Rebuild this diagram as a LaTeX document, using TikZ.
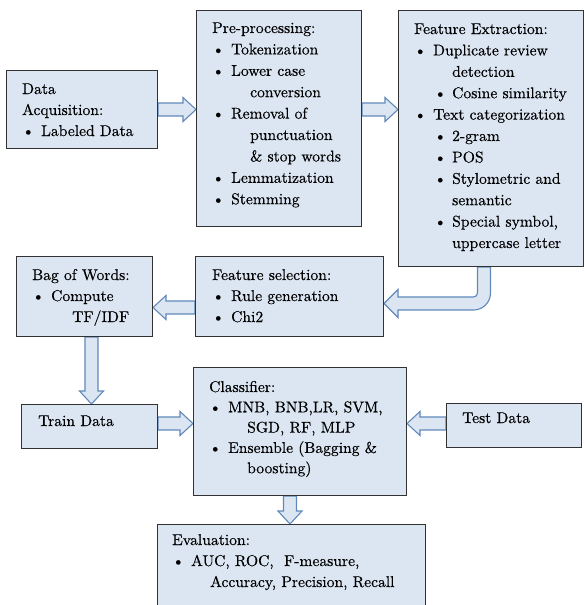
\documentclass[tikz,border=0pt]{standalone}
\usepackage{fontspec}
\newfontfamily\lmh{lmroman10-regular}[Extension=.otf, FakeBold=0.35]
\usetikzlibrary{calc}
\definecolor{boxfill}{RGB}{220,230,242}
\definecolor{boxline}{RGB}{50,50,50}
\definecolor{arrline}{RGB}{96,136,186}
\newcommand\myb{\makebox[19pt][l]{\textbullet}}
\newcommand\myc{\hspace*{38pt}}
\newcommand\mys{\hspace*{20pt}\makebox[18pt][l]{\textbullet}}
\newcommand\arsw{6.5}
\newcommand\arhw{12}
\newcommand\arhl{13}
\pgfdeclarelayer{bg}
\pgfsetlayers{bg,main}
\tikzset{
  box/.style={draw=boxline, fill=boxfill, line width=1pt, anchor=north west, inner sep=0pt},
  txt/.style={anchor=base west, inner sep=0pt, font=\lmh\fontsize{15.6}{21}\selectfont},
  txtw/.style={anchor=base west, inner sep=0pt, font=\lmh\fontsize{15.6}{21.4}\selectfont},
  blk/.style={fill=boxfill, draw=arrline, line width=1.1pt, line join=miter}
}
\newcommand\arRight[2]{\draw[blk] ($(#1)+(0,-\arsw)$) -- ($(#2)+(-\arhl,-\arsw)$) -- ($(#2)+(-\arhl,-\arhw)$) -- (#2) -- ($(#2)+(-\arhl,\arhw)$) -- ($(#2)+(-\arhl,\arsw)$) -- ($(#1)+(0,\arsw)$) -- cycle;}
\newcommand\arLeft[2]{\draw[blk] ($(#1)+(0,-\arsw)$) -- ($(#2)+(\arhl,-\arsw)$) -- ($(#2)+(\arhl,-\arhw)$) -- (#2) -- ($(#2)+(\arhl,\arhw)$) -- ($(#2)+(\arhl,\arsw)$) -- ($(#1)+(0,\arsw)$) -- cycle;}
\newcommand\arDown[2]{\draw[blk] ($(#1)+(-\arsw,0)$) -- ($(#2)+(-\arsw,-\arhl)$) -- ($(#2)+(-\arhw,-\arhl)$) -- (#2) -- ($(#2)+(\arhw,-\arhl)$) -- ($(#2)+(\arsw,-\arhl)$) -- ($(#1)+(\arsw,0)$) -- cycle;}
\begin{document}
\begin{tikzpicture}[x=1pt,y=-1pt]
\useasboundingbox (0,0) rectangle (585,605);
\clip (0,0) rectangle (585,605);
% boxes
\node[box, minimum width=151pt, minimum height=78pt] (da) at (6,70) {};
\node[box, minimum width=165pt, minimum height=216pt] (pp) at (196,10) {};
\node[box, minimum width=185pt, minimum height=256pt] (fe) at (398,10) {};
\node[box, minimum width=136pt, minimum height=80pt] (bow) at (16,256) {};
\node[box, minimum width=188pt, minimum height=80pt] (fs) at (195,256) {};
\node[box, minimum width=136pt, minimum height=44pt] (train) at (21,404) {};
\node[box, minimum width=213pt, minimum height=128pt] (cls) at (193,367) {};
\node[box, minimum width=135pt, minimum height=44pt] (test) at (446,403) {};
\node[box, minimum width=268pt, minimum height=95pt] (eval) at (157,524) {};
% texts
\node[txt] (da-t) at ($(da.north west)+(16,24)$) {\parbox[t]{140pt}{Data\\Acquisition:\\\myb Labeled Data}};
\node[txtw] (pp-t) at ($(pp.north west)+(16,23)$) {\parbox[t]{160pt}{Pre-processing:\\
\myb Tokenization\\
\myb Lower case\\
\myc conversion\\
\myb Removal of\\
\myc punctuation\\
\myc \& stop words\\
\myb Lemmatization\\
\myb Stemming}};
\node[txtw] (fe-t) at ($(fe.north west)+(16,24)$) {\parbox[t]{180pt}{Feature Extraction:\\
\myb Duplicate review\\
\myc detection\\
\mys Cosine similarity\\
\myb Text categorization\\
\mys 2-gram\\
\mys POS\\
\mys Stylometric and\\
\myc semantic\\
\mys Special symbol,\\
\myc uppercase letter}};
\node[txt] (bow-t) at ($(bow.north west)+(16,24)$) {\parbox[t]{130pt}{Bag of Words:\\
\myb Compute\\
\hspace*{40pt}TF/IDF}};
\node[txt] (fs-t) at ($(fs.north west)+(17,24)$) {\parbox[t]{180pt}{Feature selection:\\
\myb Rule generation\\
\myb Chi2}};
\node[txt] (train-t) at ($(train.north west)+(17,22)$) {Train Data};
\node[txt] (cls-t) at ($(cls.north west)+(16,25)$) {\parbox[t]{210pt}{\fontsize{15.6}{20.3}\selectfont Classifier:\\
\myb MNB, BNB,LR, SVM,\\
\myc SGD, RF, MLP\\
\myb Ensemble (Bagging \&\\
\myc boosting)}};
\node[txt] (test-t) at ($(test.north west)+(16,20)$) {Test Data};
\node[txt] (eval-t) at ($(eval.north west)+(15,21)$) {\parbox[t]{260pt}{Evaluation:\\
\myb AUC, ROC,\ \ F-measure,\\
\myc Accuracy, Precision, Recall}};
% connector anchor points
\coordinate (a2s) at ([yshift=9pt]pp.east);
\coordinate (a2e) at (fe.west |- a2s);
\coordinate (a1e) at (pp.west |- da.east);
\coordinate (a4s) at ([yshift=-11pt]fs.west);
\coordinate (a4e) at (bow.east |- a4s);
\coordinate (a5s) at ([xshift=7pt]bow.south);
\coordinate (a5e) at (a5s |- train.north);
\coordinate (a6s) at ([yshift=3pt]train.east);
\coordinate (a6e) at (cls.west |- a6s);
\coordinate (a7s) at ([yshift=2pt]test.west);
\coordinate (a7e) at (cls.east |- a7s);
\coordinate (a8s) at ([xshift=-10pt]cls.south);
\coordinate (a8e) at (a8s |- eval.north);
\coordinate (k) at ([xshift=-7pt]fe.south);
\coordinate (t) at ([yshift=-7pt]fs.east);
\coordinate (c) at (k |- t);
\begin{pgfonlayer}{bg}
\arRight{da.east}{a1e}
\arRight{a2s}{a2e}
\arLeft{a4s}{a4e}
\arDown{a5s}{a5e}
\arRight{a6s}{a6e}
\arLeft{a7s}{a7e}
\arDown{a8s}{a8e}
\draw[blk] ($(k)+(-6.5,0)$) -- ($(k)+(6.5,0)$) -- ($(c)+(6.5,-10.5)$)
  .. controls ($(c)+(6.5,-1.1)$) and ($(c)+(-1.1,6.5)$) .. ($(c)+(-10.5,6.5)$)
  -- ($(t)+(14,6.5)$) -- ($(t)+(14,14)$) -- (t) -- ($(t)+(14,-14)$) -- ($(t)+(14,-6.5)$)
  -- ($(c)+(-10.5,-6.5)$)
  .. controls ($(c)+(-8.3,-6.5)$) and ($(c)+(-6.5,-8.3)$) .. ($(c)+(-6.5,-10.5)$)
  -- cycle;
\end{pgfonlayer}
\end{tikzpicture}
\end{document}
